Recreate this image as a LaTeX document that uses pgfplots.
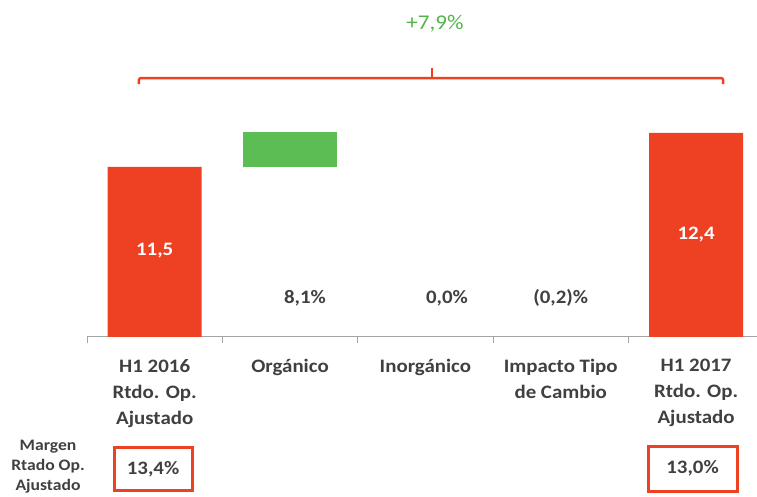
\documentclass[border=0pt]{standalone}
\usepackage{pgfplots}
\pgfplotsset{compat=1.18}
\usepackage{fontspec}
\setmainfont{Carlito}[FakeStretch=1.1]
\definecolor{barred}{RGB}{238,64,35}
\definecolor{bargreen}{RGB}{92,189,84}
\definecolor{txtgreen}{RGB}{84,180,76}
\definecolor{txtgray}{RGB}{64,64,64}
\definecolor{axgray}{RGB}{165,165,165}

\begin{document}
\begin{tikzpicture}
\path[use as bounding box] (0,0) rectangle (757pt,497pt);
\begin{axis}[
  at={(87pt,160pt)}, anchor=south west,
  scale only axis, width=670pt, height=337pt,
  xmin=-0.5, xmax=4.45, ymin=7, ymax=15.915,
  axis x line=bottom, axis y line=none,
  axis line style={-, axgray, line width=1pt},
  ybar stacked, bar width=94pt,
  xtick={0,1,2,3,4}, major tick length=0pt,
  minor xtick={-0.5,0.5,1.5,2.5,3.5}, minor tick length=6pt,
  tick align=outside,
  minor tick style={axgray, line width=1pt},
  xticklabels={{H1 2016\\Rtdo. Op.\\Ajustado}, Orgánico, Inorgánico,
               {Impacto Tipo\\de Cambio}, {H1 2017\\Rtdo. Op.\\Ajustado}},
  xticklabel style={align=center, anchor=north, yshift=-19pt,
                    font=\fontsize{19}{26}\selectfont\bfseries, text=txtgray},
  clip mode=individual,
]
% invisible base of the floating bars
\addplot[draw=none, fill=none] coordinates {(0,0) (1,11.5) (2,12.43) (3,12.43) (4,0)};
% totals H1 2016 / H1 2017
\addplot[draw=none, fill=barred] coordinates {(0,11.5) (1,0) (2,0) (3,0) (4,12.4)};
% organic growth
\addplot[draw=none, fill=bargreen] coordinates {(0,0) (1,0.93) (2,0) (3,0) (4,0)};

% positions of the labels inside the bars
\coordinate (v16) at (axis cs:0,9.28);
\coordinate (v17) at (axis cs:4,9.72);

% values
\node[txtgray, font=\fontsize{19}{22}\selectfont\bfseries] at (axis cs:1.11,8.03) {8,1\%};
\node[txtgray, font=\fontsize{19}{22}\selectfont\bfseries] at (axis cs:2.16,8.03) {0,0\%};
\node[txtgray, font=\fontsize{19}{22}\selectfont\bfseries] at (axis cs:3.0,8.03) {(0,2)\%};

% brace and total change
\draw[barred, line width=2.5pt, rounded corners=2pt]
  (axis cs:-0.116,13.69) -- (axis cs:-0.116,13.85) -- (axis cs:4.199,13.85) -- (axis cs:4.199,13.69);
\draw[barred, line width=2.5pt] (axis cs:2.049,13.85) -- (axis cs:2.049,14.12);
\node[txtgreen, font=\fontsize{21}{24}\selectfont] at (axis cs:2.071,15.28) {+7,9\%};

% margins
\node[txtgray, align=center, font=\fontsize{16}{20}\selectfont\bfseries]
  at (axis cs:-0.788,3.56) {Margen\\Rtado Op.\\Ajustado};
\node[draw=barred, line width=3pt, minimum width=78pt, minimum height=43pt,
      text=txtgray, font=\fontsize{19}{22}\selectfont\bfseries]
  at (axis cs:-0.012,3.50) {13,4\%};
\node[draw=barred, line width=3pt, minimum width=89pt, minimum height=45pt,
      text=txtgray, font=\fontsize{19}{22}\selectfont\bfseries]
  at (axis cs:3.974,3.52) {13,0\%};
\end{axis}
\node[white, font=\fontsize{19}{22}\selectfont\bfseries] at (v16) {11,5};
\node[white, font=\fontsize{19}{22}\selectfont\bfseries] at (v17) {12,4};
\end{tikzpicture}
\end{document}
